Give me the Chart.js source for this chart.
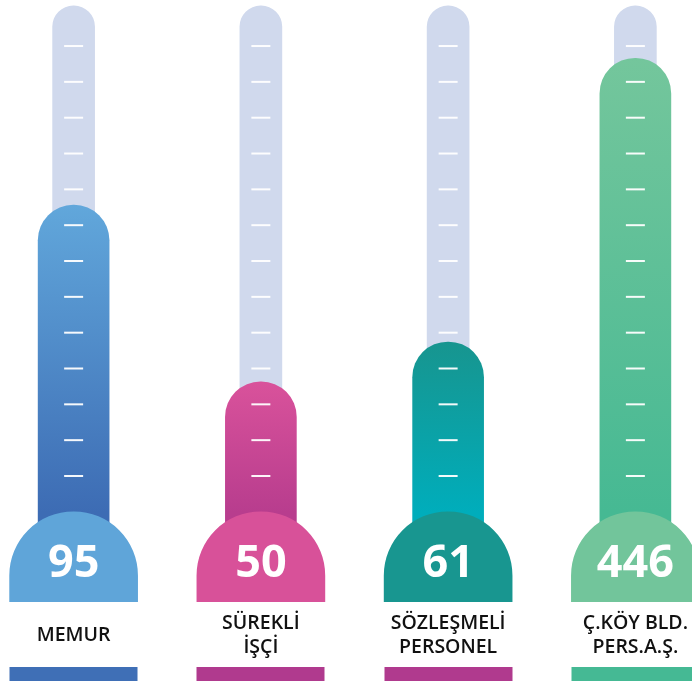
<!DOCTYPE html>
<html>
<head>
<meta charset="utf-8">
<script src="https://cdn.jsdelivr.net/npm/chart.js@4"></script>
<style>
  html, body { margin: 0; padding: 0; background: #fff; overflow: hidden; }
  #wrap { position: absolute; left: -20px; top: 0; width: 749px; height: 681px; }
</style>
</head>
<body>
<div id="wrap"><canvas id="termometro"></canvas></div>
<script>
// categories and the numbers written in the bulbs
const categorias = ['MEMUR', ['SÜREKLİ', 'İŞÇİ'], ['SÖZLEŞMELİ', 'PERSONEL'], ['Ç.KÖY BLD.', 'PERS.A.Ş.']];
const valores = [95, 50, 61, 446];

// thermometer fill level (10 units = one tick mark)
const niveles = [85.6, 36.3, 47.4, 126.6];
const tubo = [141.2, 141.2, 141.2, 141.2];
const bulbo = [0, 0, 0, 0];
const marcas = [10, 20, 30, 40, 50, 60, 70, 80, 90, 100, 110, 120, 130];

// colours
const colorTubo = '#d0d9ed';
const colorArriba = ['#61a7db', '#d9529b', '#17958f', '#74c69c'];
const colorAbajo = ['#3d6cb4', '#b83d8e', '#00adbb', '#46b993'];
const colorBulbo = ['#5fa5d9', '#d85199', '#189690', '#72c59b'];
const colorFranja = ['#3f6fb6', '#b03a8e', '#b03a8e', '#45b994'];

const nombres = categorias.map(c => Array.isArray(c) ? c.join(' ') : c);
const puntosMarcas = [];
nombres.forEach(n => marcas.forEach(m => puntosMarcas.push({ x: n, y: m })));

function degradado(c) {
    const chart = c.chart;
    const i = c.dataIndex;
    const y = chart.scales.y;
    if (!chart.chartArea || !y) return colorArriba[i];
    const g = chart.ctx.createLinearGradient(0, y.getPixelForValue(niveles[i]), 0, y.getPixelForValue(0));
    g.addColorStop(0, colorArriba[i]);
    g.addColorStop(1, colorAbajo[i]);
    return g;
}

// numbers inside the bulbs
const numerosBulbo = {
    id: 'numerosBulbo',
    afterDatasetsDraw(chart) {
        const meta = chart.getDatasetMeta(2);
        const ctx = chart.ctx;
        ctx.save();
        ctx.fillStyle = '#ffffff';
        ctx.font = '700 45px "Noto Sans", sans-serif';
        ctx.textAlign = 'center';
        ctx.textBaseline = 'alphabetic';
        meta.data.forEach((bar, i) => {
            ctx.fillText(String(valores[i]), bar.x, bar.y + 65);
        });
        ctx.restore();
    }
};

new Chart(document.getElementById('termometro'), {
    type: 'bar',
    data: {
        labels: nombres,
        datasets: [
            {
                // white dashes on the tubes
                type: 'line',
                data: puntosMarcas,
                showLine: false,
                pointStyle: 'line',
                pointRadius: 9.5,
                pointHoverRadius: 9.5,
                pointBorderWidth: 2,
                pointBorderColor: 'rgba(255,255,255,0.95)',
                order: 0
            },
            {
                data: niveles,
                base: -10,
                barThickness: 71,
                borderRadius: 35.5,
                backgroundColor: degradado,
                grouped: false,
                order: 2
            },
            {
                data: bulbo,
                base: -40,
                barThickness: 128,
                borderRadius: 64,
                backgroundColor: colorBulbo,
                grouped: false,
                clip: 0,
                order: 1
            },
            {
                data: tubo,
                base: -10,
                barThickness: 42,
                borderRadius: 21,
                backgroundColor: colorTubo,
                grouped: false,
                order: 3
            }
        ]
    },
    options: {
        responsive: true,
        maintainAspectRatio: false,
        animation: false,
        events: [],
        layout: { padding: 0, autoPadding: false },
        plugins: { legend: { display: false }, tooltip: { enabled: false } },
        scales: {
            y: {
                display: false,
                min: -25.17,
                max: 142.85
            },
            x: {
                offset: true,
                grid: { display: false },
                border: { display: false },
                ticks: {
                    color: '#111111',
                    padding: 13,
                    crossAlign: 'center',
                    maxRotation: 0,
                    autoSkip: false,
                    font: { family: '"Open Sans", sans-serif', size: 19.5, weight: '600', lineHeight: '24px' },
                    callback: (v, i) => categorias[i]
                },
                afterFit: s => { s.height = 65; }
            },
            // coloured strips under the labels, drawn as tick marks
            x2: {
                type: 'category',
                position: 'bottom',
                weight: 1,
                offset: true,
                border: { display: false },
                grid: {
                    offset: false,
                    drawOnChartArea: false,
                    drawTicks: true,
                    tickLength: 14,
                    tickWidth: 128,
                    tickColor: colorFranja
                },
                ticks: { display: false },
                afterFit: s => { s.height = 14; }
            }
        }
    },
    plugins: [numerosBulbo]
});
</script>
</body>
</html>
